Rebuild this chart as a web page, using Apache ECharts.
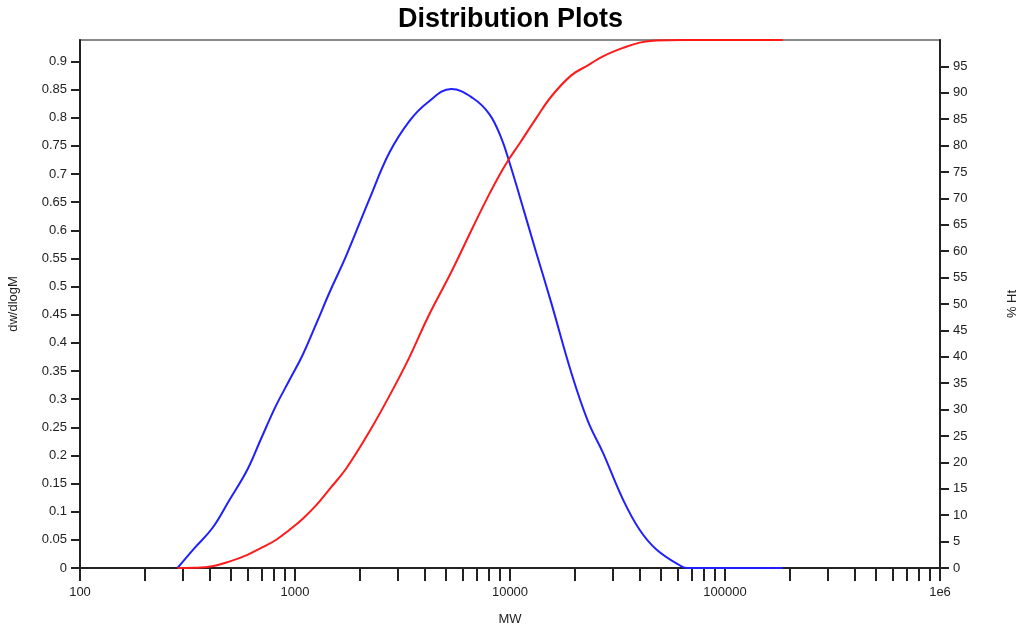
<!DOCTYPE html>
<html>
<head>
<meta charset="utf-8">
<script src="https://cdn.jsdelivr.net/npm/echarts@6/dist/echarts.min.js"></script>
<style>
  html, body { margin: 0; padding: 0; background: #fff; }
  #chart { width: 1021px; height: 628px; }
</style>
</head>
<body>
<div id="chart"></div>
<script>
// molecular weight positions
var mw = [284, 340, 413, 494, 601, 696, 815, 940, 1084, 1256, 1445, 1727, 2216, 2749,
          3404, 4140, 5324, 6711, 8031, 9102, 9952, 11079, 13250, 15560, 19280, 23030,
          27050, 33510, 40070, 47960, 62700, 67140, 185800];
// dw/dlogM (left axis)
var dwdlogm = [0, 0.035, 0.071, 0.120, 0.175, 0.230, 0.288, 0.333, 0.378, 0.434, 0.489,
               0.554, 0.655, 0.738, 0.794, 0.827, 0.851, 0.835, 0.806, 0.764, 0.720,
               0.661, 0.560, 0.471, 0.347, 0.261, 0.205, 0.122, 0.068, 0.033, 0.003, 0, 0];
// cumulative % Ht (right axis)
var pctHt = [0, 0.05, 0.34, 1.2, 2.5, 3.8, 5.3, 7.2, 9.3, 11.9, 14.9, 18.8, 25.8, 32.6,
             39.9, 47.4, 56.0, 64.5, 70.9, 75.0, 77.6, 80.4, 85.2, 89.3, 93.3, 95.2,
             96.9, 98.5, 99.5, 99.9, 100, 100, 100];
var xTicks = [];
[100, 1000, 10000, 100000].forEach(function (d) {
    for (var k = 1; k <= 9; k++) xTicks.push(k * d);
});
xTicks.push(1000000);
var xLabels = [100, 1000, 10000, 100000, 1000000];

var chart = echarts.init(document.getElementById('chart'));
var font = 'Liberation Sans, Arial, sans-serif';
var axisCol = '#222';

chart.setOption({
    animation: false,
    title: {
        text: 'Distribution Plots',
        left: 'center',
        top: 1,
        textStyle: { fontFamily: font, fontSize: 27, fontWeight: 'bold', color: '#000' }
    },
    grid: {
        left: 80, right: 81, top: 40, bottom: 60,
        outerBoundsMode: 'none',
        containLabel: false,
        show: true, borderColor: '#888', borderWidth: 2
    },
    xAxis: {
        type: 'log',
        logBase: 10,
        min: 100,
        max: 1000000,
        name: 'MW',
        nameLocation: 'middle',
        nameGap: 45,
        nameTextStyle: { fontFamily: font, fontSize: 13, color: axisCol },
        axisLine: { lineStyle: { color: axisCol, width: 2 } },
        axisTick: { customValues: xTicks, length: 13, lineStyle: { color: axisCol, width: 2 } },
        axisLabel: {
            customValues: xLabels,
            margin: 18,
            fontFamily: font, fontSize: 13, color: axisCol,
            formatter: function (v) { return v >= 1000000 ? '1e6' : String(v); }
        },
        splitLine: { show: false },
        minorTick: { show: false }
    },
    yAxis: [{
        type: 'value',
        min: 0,
        max: 0.938,
        interval: 0.05,
        name: 'dw/dlogM',
        nameLocation: 'middle',
        nameGap: 60,
        nameTextStyle: { fontFamily: font, fontSize: 13, color: axisCol },
        axisLine: { show: true, lineStyle: { color: axisCol, width: 2 } },
        axisTick: { show: true, length: 9, lineStyle: { color: axisCol, width: 2 } },
        axisLabel: { showMaxLabel: false, margin: 13, fontFamily: font, fontSize: 13, color: axisCol },
        splitLine: { show: false }
    }, {
        type: 'value',
        position: 'right',
        min: 0,
        max: 100,
        interval: 5,
        name: '% Ht',
        nameLocation: 'middle',
        nameRotate: 90,
        nameGap: 66,
        nameTextStyle: { fontFamily: font, fontSize: 13, color: axisCol },
        axisLine: { show: true, lineStyle: { color: axisCol, width: 2 } },
        axisTick: { show: true, length: 9, lineStyle: { color: axisCol, width: 2 } },
        axisLabel: { showMaxLabel: false, margin: 13, fontFamily: font, fontSize: 13, color: axisCol },
        splitLine: { show: false }
    }],
    series: [{
        name: 'dw/dlogM',
        type: 'line',
        yAxisIndex: 0,
        showSymbol: false,
        smooth: 0.4,
        lineStyle: { color: '#2020ff', width: 2 },
        data: mw.map(function (m, i) { return [m, dwdlogm[i]]; })
    }, {
        name: '% Ht',
        type: 'line',
        yAxisIndex: 1,
        showSymbol: false,
        smooth: 0.4,
        lineStyle: { color: '#ff1a1a', width: 2 },
        data: mw.map(function (m, i) { return [m, pctHt[i]]; })
    }]
});
</script>
</body>
</html>
